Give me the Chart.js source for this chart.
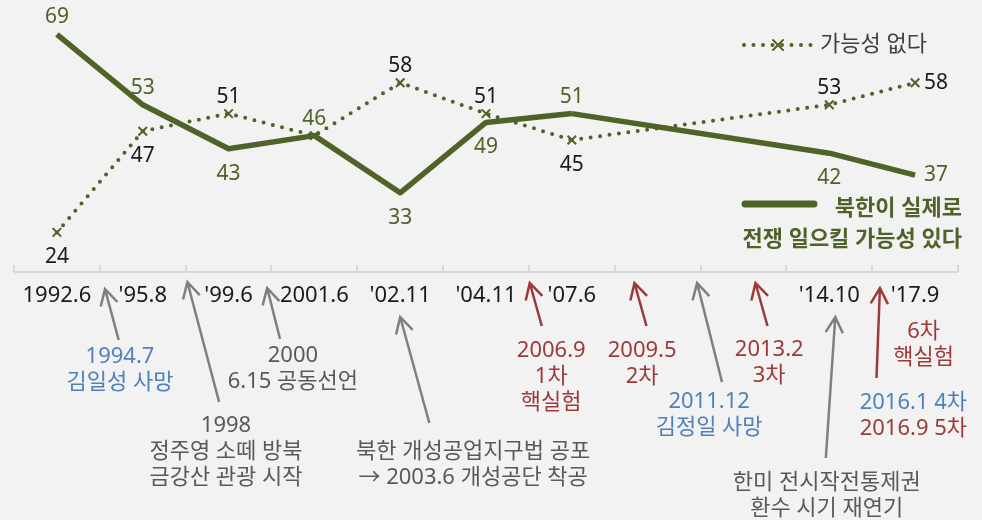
<!DOCTYPE html>
<html>
<head>
<meta charset="utf-8">
<script src="https://cdn.jsdelivr.net/npm/chart.js@4.4.1/dist/chart.umd.min.js"></script>
<style>
  html, body { margin: 0; padding: 0; background: #f2f2f2; }
</style>
</head>
<body>
<canvas id="chart" width="982" height="520"></canvas>
<script>
// --- Data --- //
const periods = ['1992.6', "'95.8", "'99.6", '2001.6', "'02.11", "'04.11", "'07.6", '', '', "'14.10", "'17.9"];
const warLikely = [69, 53, 43, 46, 33, 49, 51, null, null, 42, 37];
const warUnlikely = [24, 47, 51, 46, 58, 51, 45, null, null, 53, 58];
// where each value label sits: a = above, b = below, r = right, '' = none
const warLikelyLabelPos = ['a', 'a', 'b', 'a', 'b', 'b', 'a', '', '', 'b', 'r'];
const warUnlikelyLabelPos = ['b', 'b', 'a', '', 'a', 'a', 'b', '', '', 'a', 'r'];
const likelyName = ['북한이 실제로', '전쟁 일으킬 가능성 있다'];
const unlikelyName = '가능성 없다';

const GREEN = '#4f6228';
const GRAY_TXT = '#595959';
const GRAY_ARROW = '#7f7f7f';
const BLUE = '#4f81bd';
const RED = '#9b3a38';
const FONT = "'Noto Sans', 'Noto Sans CJK KR', sans-serif";

// events under the axis; x is in category units so it follows the x scale
const events = [
    { x: 0.735, y: 357, lines: [['1994.7', BLUE], ['김일성 사망', BLUE]],
      arrow: { from: [0.72, 340], to: [0.56, 289], color: GRAY_ARROW } },
    { x: 1.97, y: 426, lines: [['1998', GRAY_TXT], ['정주영 소떼 방북', GRAY_TXT], ['금강산 관광 시작', GRAY_TXT]],
      arrow: { from: [1.89, 402], to: [1.52, 282], color: GRAY_ARROW } },
    { x: 2.75, y: 356, lines: [['2000', GRAY_TXT], ['6.15 공동선언', GRAY_TXT]],
      arrow: { from: [2.6, 339], to: [2.45, 288], color: GRAY_ARROW } },
    { x: 4.85, y: 452, lines: [['북한 개성공업지구법 공포', GRAY_TXT], ['→ 2003.6 개성공단 착공', GRAY_TXT]],
      arrow: { from: [4.34, 423], to: [4.0, 317], color: GRAY_ARROW } },
    { x: 5.76, y: 351, lines: [['2006.9', RED], ['1차', RED], ['핵실험', RED]],
      arrow: { from: [5.65, 326], to: [5.51, 283], color: RED } },
    { x: 6.82, y: 351, lines: [['2009.5', RED], ['2차', RED]],
      arrow: { from: [6.87, 326], to: [6.73, 283], color: RED } },
    { x: 7.6, y: 402, lines: [['2011.12', BLUE], ['김정일 사망', BLUE]],
      arrow: { from: [7.75, 382], to: [7.46, 283], color: GRAY_ARROW } },
    { x: 8.3, y: 350, lines: [['2013.2', RED], ['3차', RED]],
      arrow: { from: [8.28, 326], to: [8.14, 283], color: RED } },
    { x: 8.97, y: 483, lines: [['한미 전시작전통제권', GRAY_TXT], ['환수 시기 재연기', GRAY_TXT]],
      arrow: { from: [8.96, 458], to: [9.07, 317], color: GRAY_ARROW } },
    { x: 10.1, y: 332, lines: [['6차', RED], ['핵실험', RED]] },
    { x: 9.98, y: 403, lines: [['2016.1 4차', BLUE], ['2016.9 5차', RED]],
      arrow: { from: [9.55, 378], to: [9.59, 288], color: RED } }
];

// --- Plugins --- //
const axisTicksPlugin = {
    id: 'axisTicks',
    beforeDatasetsDraw(chart) {
        const { ctx, chartArea, scales: { x } } = chart;
        ctx.save();
        ctx.strokeStyle = '#d9d9d9';
        ctx.lineWidth = 2;
        ctx.beginPath();
        for (let i = 0; i <= periods.length; i++) {
            const px = Math.round(x.getPixelForValue(i - 0.5));
            ctx.moveTo(px, chartArea.bottom - 7);
            ctx.lineTo(px, chartArea.bottom);
        }
        ctx.moveTo(chartArea.left, chartArea.bottom);
        ctx.lineTo(chartArea.right, chartArea.bottom);
        ctx.stroke();
        ctx.restore();
    }
};

const valueLabelsPlugin = {
    id: 'valueLabels',
    afterDatasetsDraw(chart) {
        const { ctx } = chart;
        const positions = [warLikelyLabelPos, warUnlikelyLabelPos];
        const colors = [GREEN, '#1a1a1a'];
        ctx.save();
        ctx.font = '21px ' + FONT;
        chart.data.datasets.forEach((ds, di) => {
            const meta = chart.getDatasetMeta(di);
            ds.data.forEach((v, i) => {
                const pos = positions[di][i];
                if (v === null || !pos) return;
                const pt = meta.data[i];
                ctx.fillStyle = colors[di];
                ctx.textBaseline = 'middle';
                if (pos === 'r') {
                    ctx.textAlign = 'left';
                    ctx.fillText(String(v), pt.x + 9, pt.y);
                } else {
                    ctx.textAlign = 'center';
                    const dy = pos === 'a' ? -17 : 25;
                    ctx.fillText(String(v), pt.x, pt.y + dy);
                }
            });
        });
        ctx.restore();
    }
};

function drawArrow(ctx, x1, y1, x2, y2, color) {
    const ang = Math.atan2(y2 - y1, x2 - x1);
    const len = 18, spread = 0.5;
    ctx.strokeStyle = color;
    ctx.lineWidth = 2.5;
    ctx.lineCap = 'butt';
    ctx.beginPath();
    ctx.moveTo(x1, y1);
    ctx.lineTo(x2, y2);
    ctx.moveTo(x2 - len * Math.cos(ang - spread), y2 - len * Math.sin(ang - spread));
    ctx.lineTo(x2, y2);
    ctx.lineTo(x2 - len * Math.cos(ang + spread), y2 - len * Math.sin(ang + spread));
    ctx.stroke();
}

const eventsPlugin = {
    id: 'events',
    afterDraw(chart) {
        const { ctx, scales: { x } } = chart;
        ctx.save();
        ctx.font = '22px ' + FONT;
        ctx.textAlign = 'center';
        ctx.textBaseline = 'middle';
        events.forEach(ev => {
            const cx = x.getPixelForValue(ev.x);
            ev.lines.forEach((ln, k) => {
                ctx.fillStyle = ln[1];
                ctx.fillText(ln[0], cx, ev.y + k * 26);
            });
            if (ev.arrow) {
                const a = ev.arrow;
                drawArrow(ctx, x.getPixelForValue(a.from[0]), a.from[1],
                    x.getPixelForValue(a.to[0]), a.to[1], a.color);
            }
        });
        ctx.restore();
    }
};

const legendPlugin = {
    id: 'customLegend',
    afterDraw(chart) {
        const { ctx } = chart;
        const dotted = chart.data.datasets[1];
        const solid = chart.data.datasets[0];
        ctx.save();
        // dotted series
        ctx.strokeStyle = dotted.borderColor;
        ctx.lineWidth = dotted.borderWidth;
        ctx.lineCap = 'round';
        ctx.setLineDash(dotted.borderDash);
        ctx.beginPath();
        ctx.moveTo(744, 45);
        ctx.lineTo(812, 45);
        ctx.stroke();
        ctx.setLineDash([]);
        ctx.lineWidth = 2;
        ctx.beginPath();
        ctx.moveTo(773, 40); ctx.lineTo(783, 50);
        ctx.moveTo(783, 40); ctx.lineTo(773, 50);
        ctx.stroke();
        ctx.font = '22px ' + FONT;
        ctx.fillStyle = '#404040';
        ctx.textAlign = 'left';
        ctx.textBaseline = 'middle';
        ctx.fillText(unlikelyName, 820, 45);
        // solid series
        ctx.strokeStyle = solid.borderColor;
        ctx.lineWidth = 7;
        ctx.lineCap = 'round';
        ctx.beginPath();
        ctx.moveTo(745, 204);
        ctx.lineTo(814, 204);
        ctx.stroke();
        ctx.font = 'bold 22px ' + FONT;
        ctx.fillStyle = GREEN;
        ctx.textAlign = 'right';
        ctx.fillText(likelyName[0], 962, 209);
        ctx.fillText(likelyName[1], 962, 240);
        ctx.restore();
    }
};

// --- Chart --- //
const ctx = document.getElementById('chart').getContext('2d');
new Chart(ctx, {
    type: 'line',
    data: {
        labels: periods,
        datasets: [
            {
                label: likelyName.join(' '),
                data: warLikely,
                borderColor: GREEN,
                borderWidth: 5.5,
                borderJoinStyle: 'round',
                pointRadius: 0,
                spanGaps: true,
                tension: 0,
                segment: {
                    borderWidth: c => (c.p0DataIndex === 6 ? 3.5 : undefined)
                }
            },
            {
                label: unlikelyName,
                data: warUnlikely,
                borderColor: GREEN,
                borderWidth: 4,
                borderDash: [0, 9.5],
                borderCapStyle: 'round',
                pointStyle: 'crossRot',
                pointRadius: 6,
                pointBorderWidth: 2,
                pointBorderColor: GREEN,
                pointBackgroundColor: GREEN,
                spanGaps: true,
                tension: 0,
                segment: {
                    borderDash: c => (c.p0DataIndex === 6 ? [4, 5] : undefined),
                    borderCapStyle: c => (c.p0DataIndex === 6 ? 'butt' : undefined)
                }
            }
        ]
    },
    options: {
        responsive: false,
        animation: false,
        devicePixelRatio: 1,
        layout: { padding: { left: 14, right: 24, top: 6, bottom: 0 } },
        plugins: {
            legend: { display: false },
            tooltip: { enabled: false }
        },
        scales: {
            x: {
                offset: true,
                grid: { display: false, drawTicks: false, offset: true },
                border: { display: false },
                ticks: {
                    color: '#1a1a1a',
                    font: { family: FONT, size: 22 },
                    padding: 11,
                    maxRotation: 0,
                    autoSkip: false
                },
                afterFit: s => { s.height = 248; }
            },
            y: {
                display: false,
                min: 15,
                max: 75
            }
        }
    },
    plugins: [axisTicksPlugin, valueLabelsPlugin, eventsPlugin, legendPlugin]
});
</script>
</body>
</html>
